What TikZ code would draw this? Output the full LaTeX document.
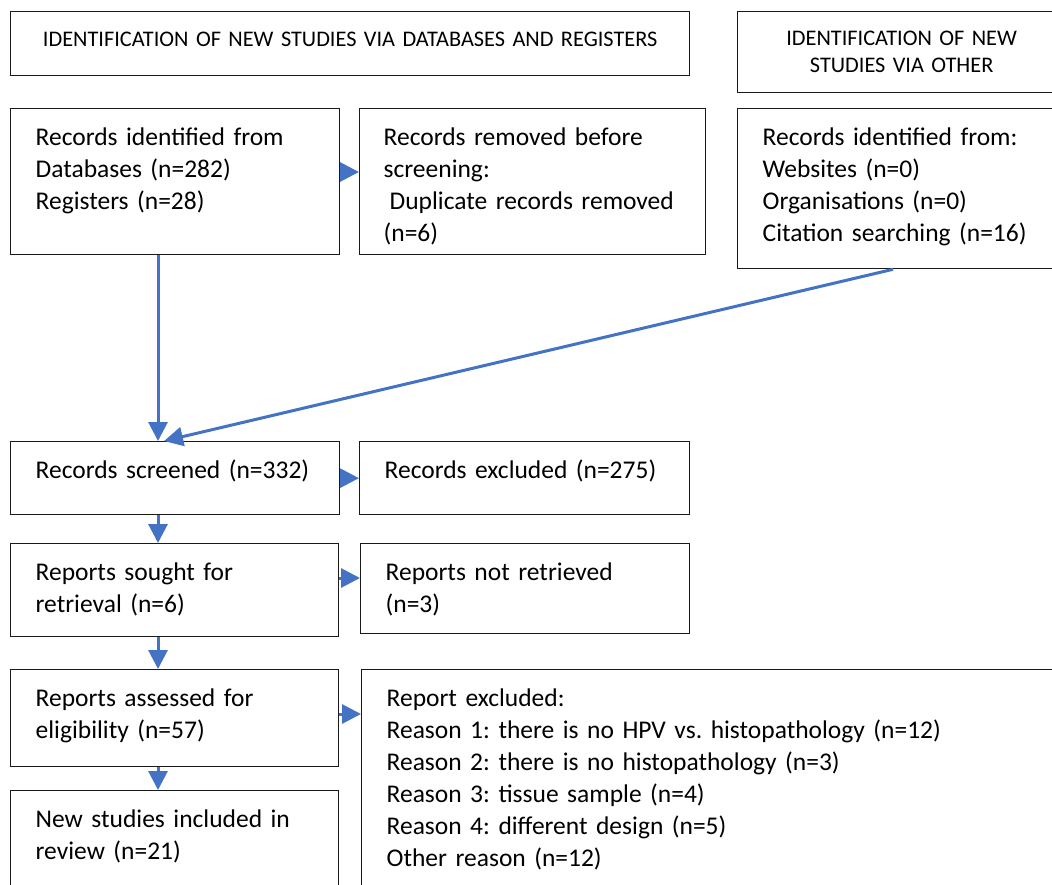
\documentclass[tikz,border=0pt]{standalone}
\usepackage{fontspec}
\setmainfont{Carlito}
\usepackage{tikz}
\usetikzlibrary{arrows.meta}
\definecolor{ink}{HTML}{1a1a1a}
\definecolor{flow}{HTML}{4472C4}
\frenchspacing

\begin{document}
\begin{tikzpicture}[x=1pt,y=-1pt,
  stage/.style={draw=ink,line width=1.3pt,anchor=north west,align=left,
    inner xsep=25pt,inner ysep=0pt,text height=37pt,
    font=\fontsize{25.5}{32}\selectfont},
  headbox/.style={draw=ink,line width=1.3pt,anchor=north west,align=center,
    inner xsep=0pt,inner ysep=0pt,font=\fontsize{22.3}{27}\selectfont},
  arr/.style={-{Triangle[length=19pt,width=19pt]},line width=3pt,draw=flow}]
  \useasboundingbox (0,0) rectangle (1052,884);
  \clip (0,0) rectangle (1052,884);
  % headers
  \node[headbox,text width=679pt,text height=35pt,text depth=29pt] (hdrdb) at (10,11)
    {IDENTIFICATION OF NEW STUDIES VIA DATABASES AND REGISTERS};
  \node[headbox,text width=328pt,text height=34pt,text depth=47pt] (hdrother) at (737,11)
    {IDENTIFICATION OF NEW\\STUDIES VIA OTHER};
  % identification
  \node[stage,text width=279pt,text depth=109pt] (idrec) at (10,108)
    {Records identified from\\Databases (n=282)\\Registers (n=28)};
  \node[stage,text width=298pt,inner xsep=24pt,text depth=109pt] (removed) at (359,108)
    {Records removed before\\screening:\\\hspace*{6pt}Duplicate records removed\\(n=6)};
  \node[stage,text width=278pt,text depth=123pt] (other) at (737,108)
    {Records identified from:\\Websites (n=0)\\Organisations (n=0)\\Citation searching (n=16)};
  % screening
  \node[stage,text width=279pt,text depth=36pt] (screened) at (10,441)
    {Records screened (n=332)};
  \node[stage,text width=280pt,text depth=36pt] (excluded) at (359,441)
    {Records excluded (n=275)};
  \node[stage,text width=278pt,text depth=56pt] (sought) at (10,543)
    {Reports sought for\\retrieval (n=6)};
  \node[stage,text width=279pt,text depth=53pt] (notretr) at (360,543)
    {Reports not retrieved\\(n=3)};
  \node[stage,text width=278pt,text depth=60pt] (assessed) at (10,669)
    {Reports assessed for\\eligibility (n=57)};
  \node[stage,text width=654pt,text depth=194pt] (reasons) at (361,669)
    {Report excluded:\\Reason 1: there is no HPV vs. histopathology (n=12)\\Reason 2: there is no histopathology (n=3)\\Reason 3: tissue sample (n=4)\\Reason 4: different design (n=5)\\Other reason (n=12)};
  % included
  \node[stage,text width=278pt,text depth=72pt] (included) at (10,790)
    {New studies included in\\review (n=21)};
  % connectors
  \draw[arr] ([xshift=148pt]idrec.south west) -- ([xshift=148pt]screened.north west);
  \draw[arr] ([xshift=156pt]other.south west) -- ([xshift=154pt]screened.north west);
  \draw[arr] ([yshift=-64pt]idrec.north east) -- ([yshift=-64pt]removed.north west);
  \draw[arr] (screened.east) -- (excluded.west);
  \draw[arr] ([yshift=-35pt]sought.north east) -- ([yshift=-35pt]notretr.north west);
  \draw[arr] ([yshift=-45pt]assessed.north east) -- ([yshift=-45pt]reasons.north west);
  \foreach \a/\b in {screened/sought,sought/assessed,assessed/included}
    \draw[arr] ([xshift=148pt]\a.south west) -- ([xshift=148pt]\b.north west);
\end{tikzpicture}
\end{document}
